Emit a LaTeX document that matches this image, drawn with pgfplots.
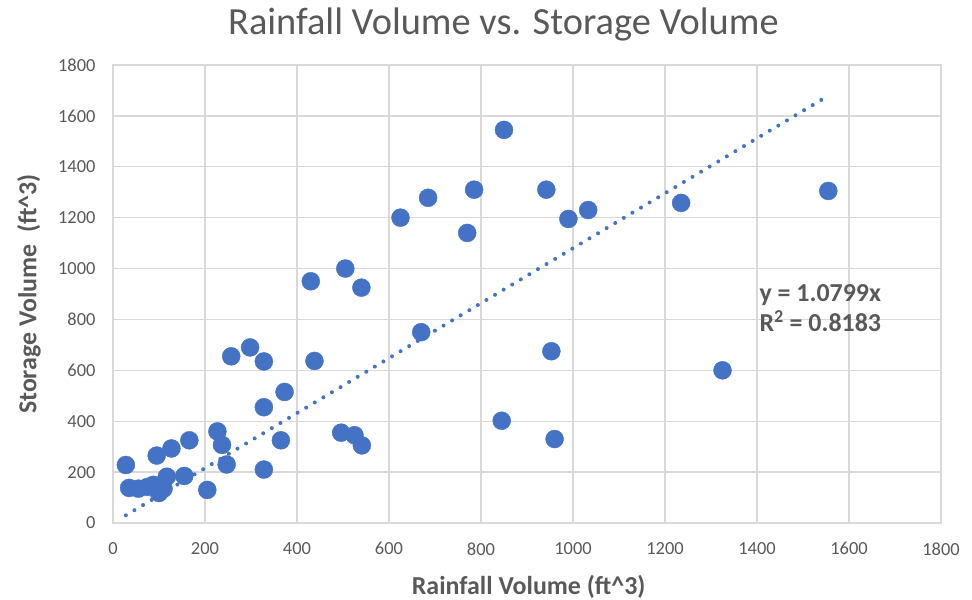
\documentclass[border=0pt]{standalone}
\usepackage{pgfplots}
\pgfplotsset{compat=1.18}
\usepackage{fontspec}
\setmainfont{Carlito}
\definecolor{excelblue}{HTML}{4472C4}
\definecolor{txtgray}{HTML}{595959}
\definecolor{gridgray}{HTML}{D9D9D9}
\pgfplotstableread{
x y
28 228
35 138
55 135
75 142
88 150
100 118
110 135
95 265
127 293
117 182
155 185
166 325
205 130
227 360
237 307
247 230
257 655
298 690
328 635
328 455
328 210
365 325
373 515
430 950
438 637
496 355
505 1000
525 345
540 925
541 305
625 1200
670 750
685 1278
770 1140
785 1310
845 402
850 1545
942 1310
953 675
960 330
990 1195
1033 1230
1235 1258
1325 600
1555 1305
}\datatable
\pgfplotstableread{
x y
28 30.24
1555 1679.24
}\trendtable
\begin{document}
\begin{tikzpicture}
\path[use as bounding box] (-113bp,-77bp) rectangle (859bp,523bp);
\begin{axis}[
  scale only axis,
  width=828bp, height=458bp,
  xmin=0, xmax=1800, ymin=0, ymax=1800,
  xtick={0,200,...,1800}, ytick={0,200,...,1800},
  grid=major,
  major grid style={gridgray, line width=1.3bp},
  axis line style={gridgray, line width=1.3bp},
  tick style={draw=none},
  /pgf/number format/assume math mode=true,
  /pgf/number format/1000 sep={},
  ticklabel style={font=\fontsize{18.5}{22}\selectfont, text=txtgray},
  xticklabel style={yshift=-16bp},
  yticklabel style={xshift=-14bp},
  title={Rainfall Volume vs. Storage Volume},
  title style={at={(axis description cs:0.4716,1.0764)}, anchor=center, font=\fontsize{38.5}{44}\selectfont, text=txtgray},
  xlabel={Rainfall Volume (ft\textasciicircum3)},
  ylabel={Storage Volume~ (ft\textasciicircum3)},
  xlabel style={at={(axis description cs:0.502,-0.14)}, anchor=center, font=\bfseries\fontsize{26}{30}\selectfont, text=txtgray},
  ylabel style={at={(axis description cs:-0.1014,0.5)}, anchor=center, font=\bfseries\fontsize{26}{30}\selectfont, text=txtgray},
]
\addplot[only marks, mark=*, mark size=9bp, mark options={fill=excelblue, draw=excelblue}] table[x=x,y=y] {\datatable};
\addplot[excelblue, line width=4bp, line cap=round, dash pattern=on 0pt off 10bp] table[x=x,y=y] {\trendtable};
\node[anchor=west, align=left, font=\bfseries\fontsize{26}{30}\selectfont, text=txtgray] at (axis cs:1398,845) {y = 1.0799x\\R\textsuperscript{2} = 0.8183};
\end{axis}
\end{tikzpicture}
\end{document}
